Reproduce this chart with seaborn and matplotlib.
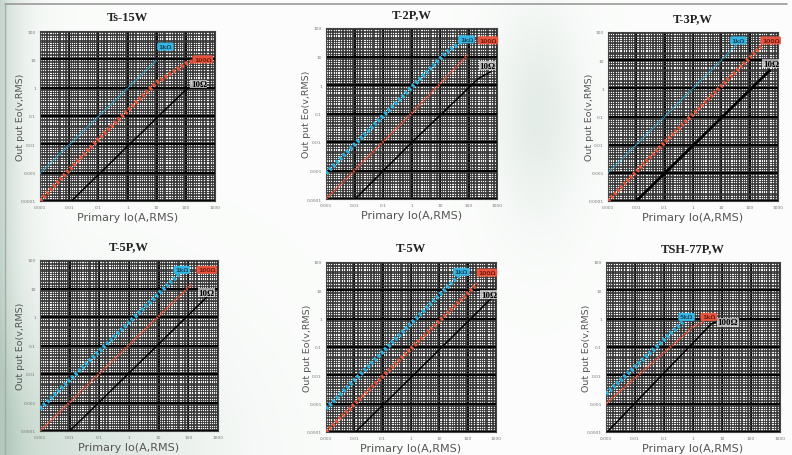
import matplotlib
matplotlib.use("Agg")
import matplotlib.pyplot as plt
from matplotlib.ticker import FixedLocator, LogLocator, NullFormatter
import numpy as np
import pandas as pd
import seaborn as sns

# panel titles, one per chart (row by row)
titles = ["Ts-15W", "T-2P,W", "T-3P,W", "T-5P,W", "T-5W", "TSH-77P,W"]

# primary current Io (A) / output Eo (V)
cyan_i = [[0.001, 10], [0.001, 17, 66], [0.001, 35], [0.001, 53], [0.001, 58], [0.001, 0.45]]
cyan_e = [[0.00095, 9.5], [0.0008, 14, 37], [0.001, 35], [0.0006, 35], [0.00066, 39], [0.0022, 0.76]]
red_i = [[0.001, 0.1, 10, 100, 200], [0.001, 1, 100], [0.001, 0.1, 260], [0.001, 130], [0.001, 220], [0.001, 1, 2.5]]
red_e = [[0.0001, 0.015, 1.5, 7, 9], [0.0001, 0.1, 12], [0.0001, 0.012, 31], [0.0001, 14], [0.0001, 17], [0.001, 0.5, 0.8]]
black_i = [[0.012, 0.1, 1, 10, 100, 160], [0.0105, 1, 225, 600], [0.01, 510], [0.01, 420], [0.011, 660], [0.0011, 4.3, 6]]
black_e = [[0.0001, 0.00085, 0.0085, 0.085, 0.85, 1.1], [0.0001, 0.0095, 1.7, 2.9], [0.0001, 4.3], [0.0001, 5], [0.0001, 5], [0.0001, 0.66, 0.75]]

# load labels and where they sit (Io, Eo)
cyan_tags = ["1kΩ", "1kΩ", "1kΩ", "1kΩ", "1kΩ", "5kΩ"]
red_tags = ["100Ω", "100Ω", "100Ω", "100Ω", "100Ω", "1kΩ"]
black_tags = ["10Ω", "10Ω", "10Ω", "10Ω", "10Ω", "100Ω"]
cyan_tag_at = [(20, 28), (85, 40), (40, 50), (60, 45), (60, 45), (0.6, 1.15)]
red_tag_at = [(380, 10), (480, 37), (550, 50), (420, 45), (480, 42), (3.5, 1.15)]
black_tag_at = [(280, 1.35), (450, 4.8), (560, 7.5), (420, 7), (560, 7), (16, 0.75)]

x_ticks = [0.001, 0.01, 0.1, 1, 10, 100, 1000]
x_tick_labels = ["0.001", "0.01", "0.1", "1", "10", "100", "1000"]
y_ticks = [0.0001, 0.001, 0.01, 0.1, 1, 10, 100]
y_tick_labels = ["0.0001", "0.001", "0.01", "0.1", "1", "10", "100"]

# log-paper subdivisions within each decade
grid_subs = [1.2, 1.4, 1.6, 1.8, 2, 2.5, 3, 3.5, 4, 4.5, 5, 6, 7, 8, 9]

# line widths per panel (thick dotted / medium / thin)
cyan_lw = [1.2, 3.2, 1.2, 3.2, 3.2, 3.2]
red_lw = [3.2, 1.8, 3.0, 1.8, 3.0, 1.8]
black_lw = [1.1, 1.1, 2.0, 1.1, 1.1, 1.1]

# axes boxes in pixels: left, top, right, bottom
boxes = [(40, 32, 215, 202), (326, 29, 497, 200), (608, 33, 778, 202),
         (40, 261, 218, 432), (326, 263, 496, 433), (606, 263, 780, 433)]

sns.set_style("white")
plt.rcParams["font.family"] = ["DejaVu Sans"]

W, H = 792, 456
fig = plt.figure(figsize=(W / 100, H / 100), dpi=100)

# soft background like the brochure page
bg = fig.add_axes([0, 0, 1, 1], zorder=-10)
gx, gy = np.meshgrid(np.linspace(0, 1, 400), np.linspace(0, 1, 240))
w = 0.75 * np.exp(-gx / 0.025)
w += 0.5 * np.exp(-((gx - 0.05) ** 2 / 0.04 + (gy - 1.0) ** 2 / 0.08))
w += 0.3 * np.exp(-((gx - 0.68) ** 2 / 0.003 + (gy - 0.25) ** 2 / 0.05))
w = np.clip(w, 0, 1)[..., None]
base = np.array([0.985, 0.99, 0.985])
tint = np.array([0.70, 0.79, 0.74])
bg.imshow(base * (1 - w) + tint * w, aspect="auto", extent=(0, 1, 0, 1))
bg.plot([0.006, 0.994], [0.99, 0.99], color="#999999", lw=1.2)
bg.plot([0.006, 0.006], [0.0, 0.99], color="#aaaaaa", lw=1.0)
bg.set_xlim(0, 1)
bg.set_ylim(0, 1)
bg.axis("off")

for k, title in enumerate(titles):
    l, t, r, b = boxes[k]
    ax = fig.add_axes([l / W, 1 - b / H, (r - l) / W, (b - t) / H])
    ax.set_facecolor("#f4f4f4")
    ax.set_xscale("log")
    ax.set_yscale("log")
    ax.set_xlim(0.001, 1000)
    ax.set_ylim(0.0001, 100)

    ax.xaxis.set_major_locator(FixedLocator(x_ticks))
    ax.yaxis.set_major_locator(FixedLocator(y_ticks))
    ax.xaxis.set_minor_locator(LogLocator(base=10, subs=grid_subs, numticks=200))
    ax.yaxis.set_minor_locator(LogLocator(base=10, subs=grid_subs, numticks=200))
    ax.xaxis.set_minor_formatter(NullFormatter())
    ax.yaxis.set_minor_formatter(NullFormatter())
    ax.set_xticklabels(x_tick_labels)
    ax.set_yticklabels(y_tick_labels)
    ax.tick_params(which="both", length=0, labelsize=3.2, labelcolor="#777777", pad=3)
    ax.grid(which="major", color="black", lw=1.6)
    ax.grid(which="minor", color="#333333", lw=0.6)
    ax.set_axisbelow(True)
    for s in ax.spines.values():
        s.set_color("#444444")
        s.set_linewidth(0.8)

    df_c = pd.DataFrame({"Io": cyan_i[k], "Eo": cyan_e[k]})
    df_r = pd.DataFrame({"Io": red_i[k], "Eo": red_e[k]})
    df_b = pd.DataFrame({"Io": black_i[k], "Eo": black_e[k]})
    sns.lineplot(data=df_b, x="Io", y="Eo", ax=ax, color="black", lw=black_lw[k],
                 sort=False, estimator=None, zorder=4)
    sns.lineplot(data=df_r, x="Io", y="Eo", ax=ax, color="#e4553c", lw=red_lw[k],
                 ls=(0, (0.6, 0.5)), sort=False, estimator=None, zorder=5)
    sns.lineplot(data=df_c, x="Io", y="Eo", ax=ax, color="#2fb0dc", lw=cyan_lw[k],
                 ls=(0, (0.6, 0.5)), sort=False, estimator=None, zorder=6)

    cx, cy = cyan_tag_at[k]
    ax.text(cx, cy, cyan_tags[k], fontsize=4.4, ha="center", va="center", color="#1a4f66",
            fontweight="bold", zorder=7,
            bbox=dict(boxstyle="round,pad=0.25", fc="#35b6e4", ec="none"))
    rx, ry = red_tag_at[k]
    ax.text(rx, ry, red_tags[k], fontsize=4.4, ha="center", va="center", color="#7a1d10",
            fontweight="bold", zorder=7, clip_on=False,
            bbox=dict(boxstyle="round,pad=0.25", fc="#e8553e", ec="none"))
    bx, by = black_tag_at[k]
    ax.text(bx, by, black_tags[k], fontsize=6.5, ha="center", va="center", color="black",
            fontweight="bold", family="Liberation Serif", zorder=7,
            bbox=dict(boxstyle="square,pad=0.05", fc="#dddddd", ec="none", alpha=0.75))

    ax.set_title(title, fontsize=9, fontweight="bold", family="Liberation Serif",
                 color="#222222", pad=8)
    ax.set_xlabel("Primary Io(A,RMS)", fontsize=8, color="#555555")
    ax.set_ylabel("Out put Eo(v,RMS)", fontsize=6.8, color="#555555")
    ax.xaxis.set_label_coords(0.5, -0.065)
    ax.yaxis.set_label_coords(-0.085, 0.5)

fig.savefig("out.png", dpi=100)
